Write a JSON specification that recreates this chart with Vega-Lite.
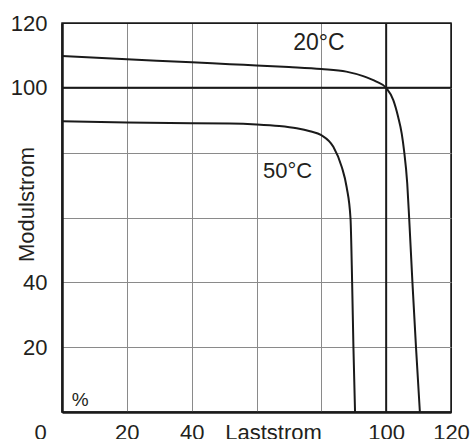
{
  "$schema": "https://vega.github.io/schema/vega-lite/v6.json",
  "width": 389,
  "height": 389,
  "autosize": {"type": "none"},
  "padding": {"left": 62, "top": 23, "right": 20, "bottom": 27},
  "background": "white",
  "config": {
    "view": {"stroke": "#1a1a1a", "strokeWidth": 1.5},
    "axis": {
      "labelFont": "Liberation Sans",
      "titleFont": "Liberation Sans",
      "labelFontSize": 22,
      "titleFontSize": 22,
      "titleFontWeight": "normal",
      "labelColor": "#231f20",
      "titleColor": "#231f20",
      "tickSize": 0,
      "domainColor": "#1a1a1a",
      "domainWidth": 2.5,
      "gridWidth": 1
    }
  },
  "datasets": {
    "curves": [
      {"series": "20°C", "strom": 0, "modul": 109.8},
      {"series": "20°C", "strom": 20, "modul": 108.8},
      {"series": "20°C", "strom": 40, "modul": 107.9},
      {"series": "20°C", "strom": 51.8, "modul": 107.3},
      {"series": "20°C", "strom": 60, "modul": 106.9},
      {"series": "20°C", "strom": 70, "modul": 106.4},
      {"series": "20°C", "strom": 80, "modul": 105.8},
      {"series": "20°C", "strom": 87.7, "modul": 105.0},
      {"series": "20°C", "strom": 92.9, "modul": 103.6},
      {"series": "20°C", "strom": 97, "modul": 101.9},
      {"series": "20°C", "strom": 100, "modul": 100},
      {"series": "20°C", "strom": 102.2, "modul": 96.2},
      {"series": "20°C", "strom": 103.7, "modul": 91.0},
      {"series": "20°C", "strom": 104.8, "modul": 85.9},
      {"series": "20°C", "strom": 105.5, "modul": 80.8},
      {"series": "20°C", "strom": 106.5, "modul": 70.5},
      {"series": "20°C", "strom": 107.1, "modul": 59.7},
      {"series": "20°C", "strom": 108.1, "modul": 40},
      {"series": "20°C", "strom": 109.2, "modul": 20},
      {"series": "20°C", "strom": 110.4, "modul": 0},
      {"series": "50°C", "strom": 0, "modul": 89.7},
      {"series": "50°C", "strom": 20, "modul": 89.3},
      {"series": "50°C", "strom": 40, "modul": 89.1},
      {"series": "50°C", "strom": 51.8, "modul": 89.0},
      {"series": "50°C", "strom": 60, "modul": 88.7},
      {"series": "50°C", "strom": 67, "modul": 88.2},
      {"series": "50°C", "strom": 72.4, "modul": 87.5},
      {"series": "50°C", "strom": 76.5, "modul": 86.6},
      {"series": "50°C", "strom": 80, "modul": 85.4},
      {"series": "50°C", "strom": 83.7, "modul": 81.8},
      {"series": "50°C", "strom": 86.3, "modul": 75.6},
      {"series": "50°C", "strom": 87.8, "modul": 69.4},
      {"series": "50°C", "strom": 89.0, "modul": 59.7},
      {"series": "50°C", "strom": 89.5, "modul": 40},
      {"series": "50°C", "strom": 89.9, "modul": 20},
      {"series": "50°C", "strom": 90.4, "modul": 0}
    ]
  },
  "layer": [
    {
      "data": {"name": "curves"},
      "mark": {"type": "line", "color": "#1a1a1a", "strokeWidth": 2, "interpolate": "monotone"},
      "encoding": {
        "x": {
          "field": "strom", "type": "quantitative",
          "scale": {"domain": [0, 120], "nice": false, "zero": false},
          "axis": {
            "values": [0, 20, 40, 60, 80, 100, 120],
            "labelExpr": "datum.value == 60 || datum.value == 80 ? '' : datum.label",
            "labelOffset": {"condition": {"test": "datum.value == 0", "value": -22}, "value": 0},
            "labelPadding": 10,
            "labelFlush": false,
            "labelOverlap": false,
            "grid": true,
            "gridColor": {"condition": {"test": "datum.value == 120 || datum.value == 0", "value": "#1a1a1a"}, "value": "#8a8a8a"},
            "title": "Laststrom",
            "titleX": 211,
            "titleY": 27,
            "titleAlign": "center",
            "titleBaseline": "alphabetic",
            "titlePadding": 0
          }
        },
        "y": {
          "field": "modul", "type": "quantitative",
          "scale": {"domain": [0, 120], "nice": false, "zero": false},
          "axis": {
            "values": [0, 20, 40, 60, 80, 100, 120],
            "labelExpr": "datum.value == 0 || datum.value == 60 || datum.value == 80 ? '' : datum.label",
            "labelPadding": 15,
            "labelFlush": false,
            "labelOverlap": false,
            "grid": true,
            "gridColor": {"condition": {"test": "datum.value == 120 || datum.value == 0", "value": "#1a1a1a"}, "value": "#8a8a8a"},
            "title": "Modulstrom",
            "titleX": -36,
            "titleY": 181,
            "titleAngle": -90,
            "titleAlign": "center",
            "titleBaseline": "middle"
          }
        },
        "detail": {"field": "series", "type": "nominal"}
      }
    },
    {
      "data": {"values": [{"ref": 100}]},
      "mark": {"type": "rule", "color": "#1a1a1a", "strokeWidth": 2},
      "encoding": {"x": {"field": "ref", "type": "quantitative"}}
    },
    {
      "data": {"values": [{"ref": 100}]},
      "mark": {"type": "rule", "color": "#1a1a1a", "strokeWidth": 2},
      "encoding": {"y": {"field": "ref", "type": "quantitative"}}
    },
    {
      "data": {"values": [{"label": "20°C"}]},
      "mark": {"type": "text", "font": "Liberation Sans", "fontSize": 23, "align": "left", "baseline": "alphabetic", "color": "#231f20"},
      "encoding": {"x": {"datum": 71.3, "type": "quantitative"}, "y": {"datum": 111.7, "type": "quantitative"}, "text": {"field": "label"}}
    },
    {
      "data": {"values": [{"label": "50°C"}]},
      "mark": {"type": "text", "font": "Liberation Sans", "fontSize": 22, "align": "left", "baseline": "alphabetic", "color": "#231f20"},
      "encoding": {"x": {"datum": 62.0, "type": "quantitative"}, "y": {"datum": 72.1, "type": "quantitative"}, "text": {"field": "label"}}
    },
    {
      "data": {"values": [{"label": "%"}]},
      "mark": {"type": "text", "font": "Liberation Sans", "fontSize": 19, "align": "left", "baseline": "alphabetic", "color": "#231f20"},
      "encoding": {"x": {"datum": 3.0, "type": "quantitative"}, "y": {"datum": 2.0, "type": "quantitative"}, "text": {"field": "label"}}
    }
  ]
}
